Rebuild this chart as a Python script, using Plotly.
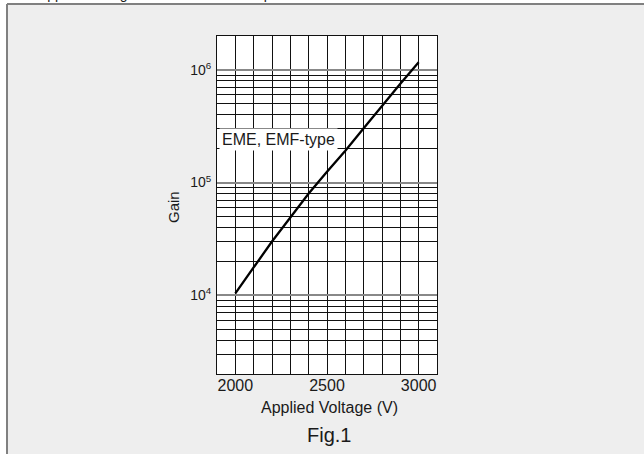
import plotly.graph_objects as go

# ---- data ----
voltage = [2000, 2100, 2200, 2300, 2400, 2500, 2600, 2700, 2800, 2900, 3000]
gain = [1.04e4, 1.79e4, 3.0e4, 4.9e4, 8.0e4, 1.25e5, 1.92e5, 3.03e5, 4.8e5, 7.55e5, 1.17e6]
x_ticks = [2000, 2500, 3000]
y_ticks = [1e4, 1e5, 1e6]
y_tick_text = ["10<sup>4</sup>", "10<sup>5</sup>", "10<sup>6</sup>"]
series_label = "EME, EMF-type"
x_title = "Applied Voltage (V)"
y_title = "Gain"
fig_caption = "Fig.1"
page_title = "Applied Voltage vs. Gain Relationship"

# ---- layout constants (pixels) ----
W, H = 644, 454
L, R, T, B = 217, 207, 36, 80
pw, ph = W - L - R, H - T - B


def px(x):
    return (x - L) / pw


def py(y):
    return (H - B - y) / ph


FONT = "Liberation Sans, Arial, sans-serif"
TXT = "#1a1a1a"

fig = go.Figure()
fig.add_trace(go.Scatter(x=voltage, y=gain, mode="lines",
                         line=dict(color="black", width=2.3),
                         showlegend=False, hoverinfo="skip"))

fig.update_layout(
    width=W, height=H,
    margin=dict(l=L, r=R, t=T, b=B, pad=0),
    paper_bgcolor="#eeeeee",
    plot_bgcolor="white",
    font=dict(family=FONT, size=16, color=TXT),
    xaxis=dict(range=[1900, 3100], tickvals=x_ticks, ticks="",
               showgrid=True, gridcolor="#111", gridwidth=1,
               minor=dict(dtick=100, tick0=1900, showgrid=True, gridcolor="#111", gridwidth=1, ticks=""),
               showline=True, linecolor="#111", linewidth=1, mirror=True, ticklabelstandoff=-3,
               zeroline=False, tickfont=dict(size=16, color=TXT)),
    yaxis=dict(type="log", range=[3.30103, 6.30103], tickvals=y_ticks, ticktext=y_tick_text,
               ticks="", showgrid=True, gridcolor="#888", gridwidth=2,
               minor=dict(dtick="D1", showgrid=True, gridcolor="#111", gridwidth=1, ticks=""),
               showline=True, linecolor="#111", linewidth=1, mirror=True, ticklabelstandoff=2,
               zeroline=False, tickfont=dict(size=14, color=TXT)),
)

# page framing: white strips outside the grey panel and its grey border
fig.add_shape(type="rect", xref="paper", yref="paper", x0=px(-5), x1=px(7), y0=py(460), y1=py(-5),
              fillcolor="white", line_width=0, layer="below")
fig.add_shape(type="rect", xref="paper", yref="paper", x0=px(-5), x1=px(650), y0=py(4), y1=py(-5),
              fillcolor="white", line_width=0, layer="below")
fig.add_shape(type="line", xref="paper", yref="paper", x0=px(7), x1=px(650), y0=py(4), y1=py(4),
              line=dict(color="#808080", width=2))
fig.add_shape(type="line", xref="paper", yref="paper", x0=px(7), x1=px(7), y0=py(4), y1=py(460),
              line=dict(color="#808080", width=2))

# partially clipped heading at the very top
fig.add_annotation(text=page_title, xref="paper", yref="paper", x=px(36), y=py(0),
                   xanchor="left", yanchor="bottom", showarrow=False, yshift=-4,
                   font=dict(size=14, color=TXT))

# series label box
fig.add_annotation(text=series_label, xref="paper", yref="paper", x=px(219), y=py(139),
                   xanchor="left", yanchor="middle", showarrow=False,
                   bgcolor="white", borderpad=2, font=dict(size=16, color=TXT))

# axis titles and caption
fig.add_annotation(text=x_title, xref="paper", yref="paper", x=px(329), y=py(407),
                   xanchor="center", yanchor="middle", showarrow=False,
                   font=dict(size=16, color=TXT))
fig.add_annotation(text=y_title, xref="paper", yref="paper", x=px(173), y=py(207),
                   xanchor="center", yanchor="middle", showarrow=False, textangle=-90,
                   font=dict(size=15, color=TXT))
fig.add_annotation(text=fig_caption, xref="paper", yref="paper", x=px(329), y=py(435),
                   xanchor="center", yanchor="middle", showarrow=False,
                   font=dict(size=20, color=TXT))

fig.write_html("out.html", config={"displayModeBar": False},
               post_script="document.body.style.margin='0px';document.body.style.overflow='hidden';")
